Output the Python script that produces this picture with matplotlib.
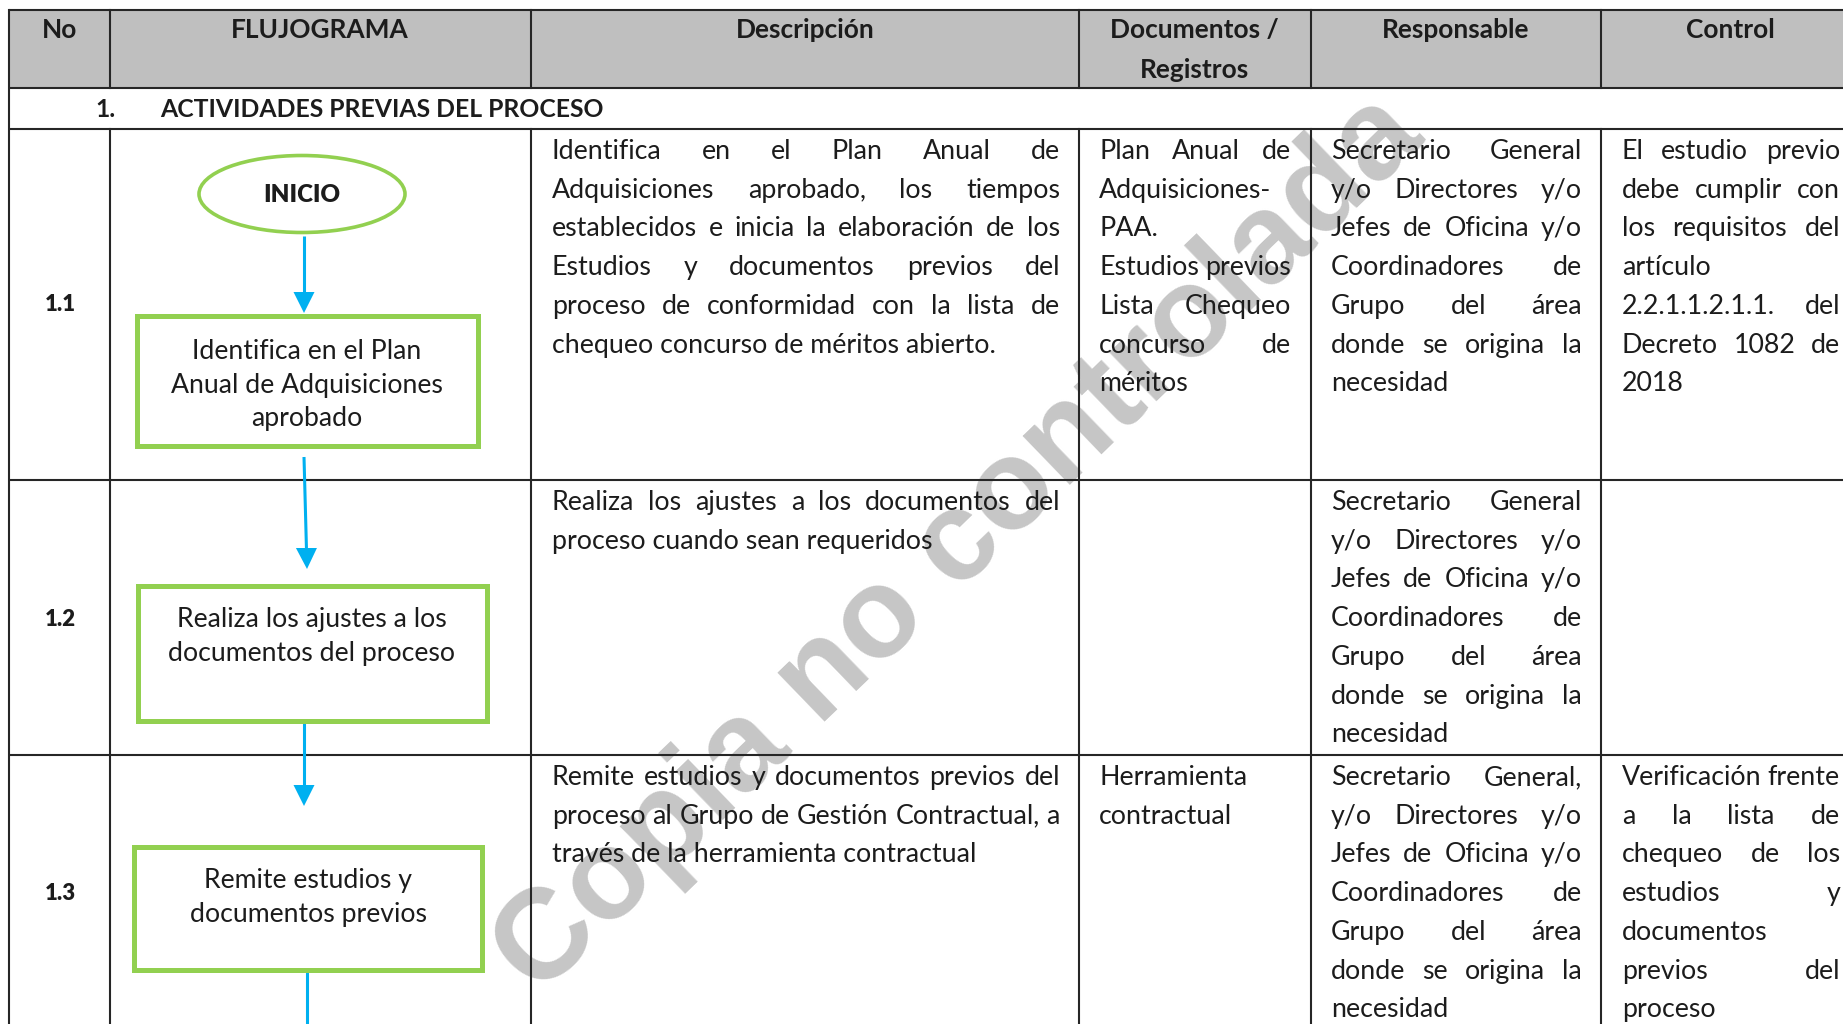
"""Flujograma table: 'Actividades previas del proceso' with the grey
'Copia no controlada' watermark. Drawn on a pixel-sized axes so every
position below is in image pixels (1843 x 1024)."""
import matplotlib

matplotlib.use("Agg")

import matplotlib.pyplot as plt  # noqa: E402
from matplotlib.patches import Ellipse, Polygon, Rectangle  # noqa: E402

# ---------------------------------------------------------------- content
HEADERS = ["No", "FLUJOGRAMA", "Descripción", "Documentos /\nRegistros",
           "Responsable", "Control"]
SECTION_NUM = "1."
SECTION_TITLE = "ACTIVIDADES PREVIAS DEL PROCESO"
ROW_IDS = ["1.1", "1.2", "1.3"]
FLOW_START = "INICIO"
FLOW_STEPS = [
    ["Identifica en el Plan", "Anual de Adquisiciones", "aprobado"],
    ["Realiza los ajustes a los", "documentos del proceso"],
    ["Remite estudios y", "documentos previos"],
]

# each cell = list of paragraphs, each paragraph = list of lines;
# the last line of a paragraph is left aligned, the others justified
RESP_TEXT = [["Secretario General", "y/o Directores y/o",
              "Jefes de Oficina y/o", "Coordinadores de", "Grupo del área",
              "donde se origina la", "necesidad"]]
DESCRIPCION = [
    [["Identifica en el Plan Anual de",
      "Adquisiciones aprobado, los tiempos",
      "establecidos e inicia la elaboración de los",
      "Estudios y documentos previos del",
      "proceso de conformidad con la lista de",
      "chequeo concurso de méritos abierto."]],
    [["Realiza los ajustes a los documentos del",
      "proceso cuando sean requeridos"]],
    [["Remite estudios y documentos previos del",
      "proceso al Grupo de Gestión Contractual, a",
      "través de la herramienta contractual"]],
]
DOCUMENTOS = [
    [["Plan Anual de", "Adquisiciones-", "PAA."],
     ["Estudios previos", "Lista Chequeo", "concurso de", "méritos"]],
    [],
    [["Herramienta"], ["contractual"]],
]
RESPONSABLE = [
    RESP_TEXT,
    RESP_TEXT,
    [["Secretario General,", "y/o Directores y/o", "Jefes de Oficina y/o",
      "Coordinadores de", "Grupo del área", "donde se origina la",
      "necesidad"]],
]
CONTROL = [
    [["El estudio previo", "debe cumplir con", "los requisitos del",
      "artículo"], ["2.2.1.1.2.1.1. del", "Decreto 1082 de", "2018"]],
    [],
    [["Verificación frente", "a la lista de", "chequeo de los",
      "estudios y", "documentos"], ["previos del", "proceso"]],
]
WATERMARK = "Copia no controlada"

# ---------------------------------------------------------------- layout
W, H = 1843, 1024
COL_X = [9, 110, 531, 1079, 1311, 1601]
Y_TOP, Y_HEAD, Y_SECT = 9.5, 88, 129
ROW_BOTTOMS = [480, 755]
ROW_TOPS = [Y_SECT, 480, 755]
TEXT_COLS = [(552, 1060), (1099, 1291), (1331, 1582), (1622, 1840)]
LINE_STEP = 38.7
FIRST_LINE = 21

FONT = "Lato"
INK = "#1c1c1c"
GRID = "#262626"
HEAD_BG = "#bfbfbf"
GREEN = "#92d050"
BLUE = "#00b0f0"
MARK = "#c6c6c6"

fig = plt.figure(figsize=(W / 100, H / 100), dpi=100)
ax = fig.add_axes([0, 0, 1, 1])
ax.set_xlim(0, W)
ax.set_ylim(H, 0)
ax.axis("off")
renderer = fig.canvas.get_renderer()


def width_of(s, fs, **kw):
    t = ax.text(0, 0, s, fontsize=fs, **kw)
    w = t.get_window_extent(renderer).width
    t.remove()
    return w


def fit(s, target, **kw):
    return 20 * target / width_of(s, 20, **kw)


fs_body = fit("chequeo concurso de méritos abierto.", 444, family=FONT)
fs_head = fit("Responsable", 148, family=FONT, fontweight="bold")
fs_sect = fit(SECTION_TITLE, 444, family=FONT, fontweight="bold")
fs_box = fit("Anual de Adquisiciones", 272, family=FONT)
fs_ini = fit(FLOW_START, 77, family=FONT, fontweight="heavy")
fs_id = fit("1.1", 31, family=FONT, fontweight="heavy")
fs_mark = fit(WATERMARK, 1235, family="Liberation Sans", fontweight="bold")


def base(yc, fs):
    # baseline from the visual line centre
    return yc + 0.34 * fs * 100 / 72


def draw_cell(paras, x0, x1, y0, fs):
    y = y0
    for para in paras:
        for i, line in enumerate(para):
            words = line.split()
            yb = base(y, fs)
            if i == len(para) - 1 or len(words) == 1:
                ax.text(x0, yb, line, fontsize=fs, family=FONT, color=INK,
                        va="baseline", ha="left", zorder=4)
            else:
                ts = [ax.text(x0, yb, w, fontsize=fs, family=FONT, color=INK,
                              va="baseline", ha="left", zorder=4)
                      for w in words]
                ws = [t.get_window_extent(renderer).width for t in ts]
                gap = max(4.0, (x1 - x0 - sum(ws)) / (len(words) - 1))
                x = x0
                for t, w in zip(ts, ws):
                    t.set_x(x)
                    x += w + gap
            y += LINE_STEP


# --- watermark (under the grid and the text)
ax.text(960, 546, WATERMARK, fontsize=fs_mark, family="Liberation Sans",
        fontweight="bold", color=MARK, rotation=44, rotation_mode="anchor",
        ha="center", va="center", zorder=1)

# --- header band and grid
ax.add_patch(Rectangle((COL_X[0], Y_TOP), W - COL_X[0], Y_HEAD - Y_TOP,
                       facecolor=HEAD_BG, edgecolor="none", zorder=0))
lw = 1.5
for y in [Y_TOP, Y_HEAD, Y_SECT] + ROW_BOTTOMS:
    ax.plot([COL_X[0], W], [y, y], color=GRID, lw=lw, zorder=3,
            solid_capstyle="butt")
ax.plot([COL_X[0]] * 2, [Y_TOP, H], color=GRID, lw=lw, zorder=3)
for x in COL_X[1:]:
    ax.plot([x, x], [Y_TOP, Y_HEAD], color=GRID, lw=lw, zorder=3)
    ax.plot([x, x], [Y_SECT, H], color=GRID, lw=lw, zorder=3)

# --- header texts
head_x = [60, 320, 805, 1194, 1456, 1730]
for x, lab in zip(head_x, HEADERS):
    for k, part in enumerate(lab.split("\n")):
        ax.text(x, base(29 + 40 * k, fs_head), part, fontsize=fs_head,
                family=FONT, fontweight="bold", color=INK, ha="center",
                va="baseline", zorder=4)

ax.text(106, base(109, fs_sect), SECTION_NUM, fontsize=fs_sect, family=FONT,
        fontweight="bold", color=INK, ha="center", va="baseline", zorder=4)
ax.text(160, base(109, fs_sect), SECTION_TITLE, fontsize=fs_sect,
        family=FONT, fontweight="bold", color=INK, ha="left", va="baseline",
        zorder=4)

for yc, rid in zip([303, 618, 892], ROW_IDS):
    ax.text(60, base(yc, fs_id), rid, fontsize=fs_id, family=FONT,
            fontweight="heavy", color=INK, ha="center", va="baseline",
            zorder=4)

# --- body cells
for r, top in enumerate(ROW_TOPS):
    y0 = top + FIRST_LINE
    for cells, (x0, x1) in zip([DESCRIPCION, DOCUMENTOS, RESPONSABLE,
                                CONTROL], TEXT_COLS):
        draw_cell(cells[r], x0, x1, y0, fs_body)

# --- flowchart
ax.add_patch(Ellipse((302, 194), 206, 77, facecolor="white", edgecolor=GREEN,
                     lw=2.6, zorder=3))
ax.text(302, base(194, fs_ini), FLOW_START, fontsize=fs_ini, family=FONT,
        fontweight="heavy", color=INK, ha="center", va="baseline", zorder=4)


def arrow(x0, y0, x1, y1, head=True):
    hl, hw = 21, 10.5
    end = y1 - hl if head else y1
    ex = x0 + (x1 - x0) * (end - y0) / (y1 - y0)
    ax.plot([x0, ex], [y0, end], color=BLUE, lw=2.2, zorder=3,
            solid_capstyle="butt")
    if head:
        ax.add_patch(Polygon([(ex - hw, end), (ex + hw, end), (x1, y1)],
                             closed=True, facecolor=BLUE, edgecolor="none",
                             zorder=3))


arrow(304, 236, 304, 313)
arrow(304, 457, 307, 569)
arrow(304, 722, 304, 806)
arrow(307, 972, 307, H + 2, head=False)

boxes = [(137, 316, 478, 446), (138, 586, 487, 721), (134, 847, 482, 970)]
box_text_y = [[350, 384, 417], [618, 652], [879, 913]]
box_text_x = [307, 312, 308]
for (x0, y0, x1, y1), lines, ys, xc in zip(boxes, FLOW_STEPS, box_text_y,
                                          box_text_x):
    ax.add_patch(Rectangle((x0, y0), x1 - x0, y1 - y0, facecolor="white",
                           edgecolor=GREEN, lw=3.6, zorder=3,
                           joinstyle="miter"))
    for line, yc in zip(lines, ys):
        ax.text(xc, base(yc, fs_box), line, fontsize=fs_box, family=FONT,
                color=INK, ha="center", va="baseline", zorder=4)

fig.savefig("out.png", dpi=100, facecolor="white")
